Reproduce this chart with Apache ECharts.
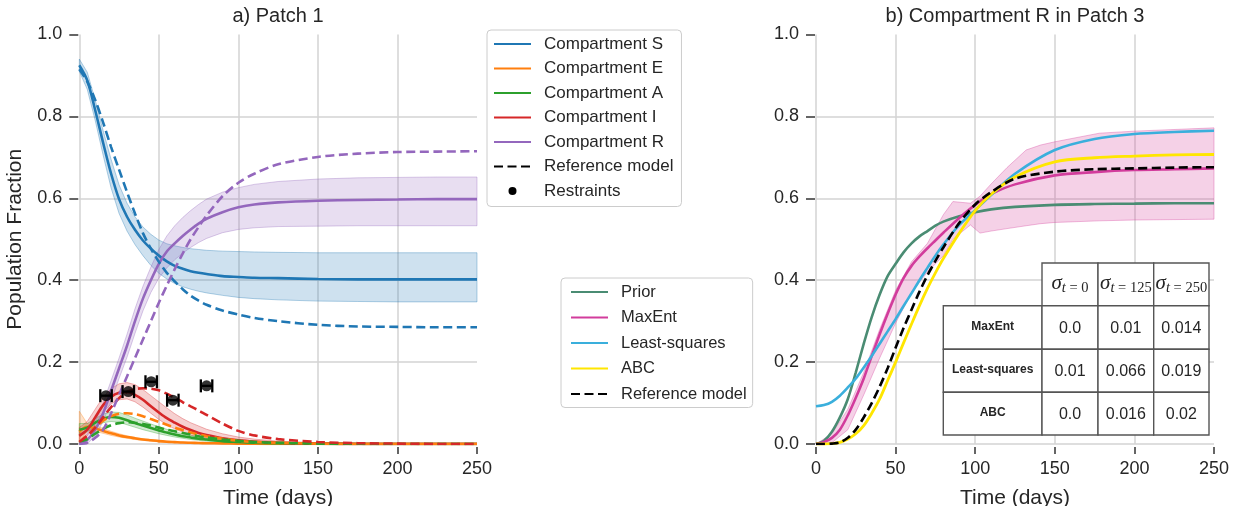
<!DOCTYPE html>
<html><head><meta charset="utf-8">
<script src="https://cdn.jsdelivr.net/npm/echarts@6/dist/echarts.min.js"></script>
<style>html,body{margin:0;padding:0;background:#fff}#c{width:1233px;height:506px}</style>
</head><body><div id="c"></div>
<script>
// ---------- shared time grid (days) ----------
const days = [0,5,10,15,20,25,30,35,40,45,50,55,60,65,70,75,80,90,100,110,125,150,175,200,225,250];

// ---------- a) Patch 1 : model mean, band (low/high) and reference model ----------
const sMean = [0.925,0.888,0.815,0.735,0.66,0.598,0.555,0.523,0.497,0.477,0.46,0.446,0.435,0.428,0.422,0.418,0.415,0.41,0.408,0.406,0.405,0.403,0.402,0.402,0.402,0.402];
const sLow  = [0.91,0.866,0.79,0.705,0.625,0.563,0.52,0.487,0.46,0.436,0.417,0.403,0.392,0.384,0.378,0.373,0.369,0.363,0.358,0.355,0.352,0.349,0.348,0.347,0.347,0.347];
const sHigh = [0.94,0.908,0.84,0.765,0.695,0.633,0.588,0.555,0.53,0.512,0.498,0.489,0.484,0.48,0.477,0.475,0.473,0.471,0.47,0.469,0.468,0.467,0.467,0.467,0.467,0.467];
const sRef  = [0.915,0.885,0.84,0.785,0.725,0.67,0.615,0.563,0.515,0.477,0.445,0.418,0.397,0.378,0.362,0.35,0.34,0.326,0.316,0.308,0.3,0.291,0.287,0.286,0.285,0.285];

const eMean = [0.03,0.042,0.038,0.032,0.026,0.021,0.017,0.014,0.011,0.009,0.007,0.0055,0.0045,0.0035,0.003,0.0025,0.002,0.0015,0.001,0.0005,0,0,0,0,0,0];
const eLow  = [0,0.034,0.031,0.026,0.021,0.017,0.014,0.011,0.009,0.007,0.005,0.004,0.003,0.0025,0.002,0.0015,0.001,0.001,0.0005,0,0,0,0,0,0,0];
const eHigh = [0.08,0.05,0.045,0.038,0.031,0.025,0.02,0.016,0.013,0.011,0.009,0.007,0.006,0.005,0.004,0.003,0.003,0.002,0.0015,0.001,0.0005,0,0,0,0,0];
const eRef  = [0.005,0.02,0.04,0.057,0.068,0.074,0.075,0.073,0.068,0.061,0.054,0.047,0.04,0.034,0.028,0.023,0.019,0.013,0.008,0.005,0.003,0.001,0,0,0,0];

const aMean = [0.035,0.04,0.052,0.062,0.066,0.064,0.058,0.051,0.045,0.039,0.033,0.028,0.023,0.019,0.016,0.013,0.011,0.007,0.005,0.003,0.002,0.001,0,0,0,0];
const aLow  = [0.02,0.03,0.042,0.052,0.055,0.053,0.047,0.041,0.035,0.03,0.025,0.021,0.017,0.014,0.011,0.009,0.007,0.004,0.003,0.002,0.001,0,0,0,0,0];
const aHigh = [0.05,0.05,0.062,0.073,0.078,0.077,0.071,0.063,0.056,0.049,0.042,0.036,0.03,0.025,0.021,0.018,0.015,0.01,0.007,0.005,0.003,0.001,0.0005,0,0,0];
const aRef  = [0.005,0.012,0.025,0.037,0.046,0.051,0.053,0.052,0.049,0.045,0.04,0.035,0.031,0.027,0.023,0.019,0.016,0.011,0.008,0.005,0.003,0.001,0.0005,0,0,0];

const iMean = [0.02,0.035,0.065,0.095,0.115,0.125,0.127,0.12,0.108,0.092,0.077,0.063,0.052,0.042,0.034,0.027,0.022,0.014,0.009,0.006,0.003,0.001,0,0,0,0];
const iLow  = [0.005,0.02,0.048,0.078,0.098,0.108,0.11,0.103,0.09,0.075,0.06,0.047,0.037,0.029,0.022,0.017,0.013,0.007,0.004,0.002,0.001,0,0,0,0,0];
const iHigh = [0.04,0.055,0.085,0.115,0.135,0.147,0.15,0.145,0.133,0.118,0.103,0.088,0.074,0.062,0.052,0.044,0.036,0.025,0.017,0.012,0.007,0.003,0.002,0.001,0.0005,0];
const iRef  = [0.005,0.02,0.04,0.065,0.09,0.112,0.127,0.134,0.136,0.135,0.131,0.123,0.113,0.102,0.092,0.082,0.071,0.05,0.032,0.021,0.012,0.005,0.002,0.001,0,0];

const rMean = [0,0.01,0.035,0.075,0.13,0.185,0.24,0.3,0.355,0.4,0.44,0.47,0.49,0.508,0.524,0.538,0.55,0.566,0.578,0.585,0.59,0.594,0.596,0.597,0.598,0.598];
const rLow  = [0,0,0.02,0.055,0.105,0.16,0.212,0.27,0.325,0.37,0.405,0.43,0.45,0.466,0.48,0.492,0.502,0.516,0.524,0.528,0.531,0.532,0.533,0.533,0.533,0.533];
const rHigh = [0.005,0.025,0.055,0.1,0.155,0.21,0.268,0.33,0.385,0.432,0.475,0.508,0.533,0.553,0.57,0.585,0.598,0.615,0.626,0.634,0.641,0.647,0.65,0.651,0.652,0.652];
const rRef  = [0,0.003,0.015,0.035,0.075,0.12,0.165,0.21,0.255,0.3,0.345,0.387,0.427,0.465,0.5,0.53,0.558,0.605,0.638,0.66,0.683,0.701,0.709,0.713,0.714,0.715];

// restraints (compartment I observations)
const restraintDays = [16.8, 30.8, 45.2, 58.8, 80];
const restraintVals = [0.118, 0.128, 0.152, 0.107, 0.142];
const restraintErr  = [3.6, 3.6, 3.6, 3.6, 3.6];

// ---------- b) Compartment R in Patch 3 ----------
const prior   = [0,0.008,0.03,0.065,0.11,0.175,0.245,0.31,0.365,0.41,0.44,0.468,0.49,0.507,0.52,0.533,0.543,0.556,0.566,0.573,0.579,0.584,0.586,0.587,0.588,0.588];
const maxEnt  = [0,0.005,0.015,0.035,0.07,0.113,0.16,0.215,0.268,0.318,0.365,0.405,0.435,0.458,0.478,0.497,0.516,0.552,0.584,0.61,0.634,0.656,0.664,0.669,0.671,0.673];
const leastSq = [0.092,0.095,0.103,0.118,0.138,0.16,0.187,0.215,0.245,0.275,0.305,0.337,0.368,0.4,0.43,0.46,0.487,0.535,0.571,0.608,0.66,0.718,0.745,0.757,0.762,0.765];
const abc     = [0,0,0.001,0.004,0.012,0.025,0.045,0.075,0.11,0.155,0.2,0.247,0.293,0.338,0.38,0.418,0.453,0.515,0.57,0.61,0.652,0.689,0.699,0.703,0.706,0.707];
const refR3   = [0,0,0.001,0.004,0.015,0.035,0.065,0.1,0.14,0.185,0.235,0.283,0.328,0.372,0.412,0.447,0.48,0.54,0.585,0.615,0.648,0.665,0.671,0.673,0.675,0.676];

const bandDays = [0,10,20,30,40,50,60,70,80,86,97,103,110,120,132,141,150,178,200,250];
const bandLow  = [0,0.003,0.035,0.12,0.21,0.295,0.37,0.42,0.46,0.5,0.535,0.515,0.52,0.526,0.533,0.538,0.541,0.545,0.547,0.549];
const bandHigh = [0,0.025,0.085,0.175,0.28,0.375,0.445,0.49,0.56,0.592,0.588,0.605,0.635,0.675,0.718,0.73,0.738,0.759,0.764,0.772];

// ---------- table ----------
const tableRowLabels = ['MaxEnt', 'Least-squares', 'ABC'];
const tableColTimes  = ['0', '125', '250'];
const sigmaT0   = ['0.0', '0.01', '0.0'];
const sigmaT125 = ['0.01', '0.066', '0.016'];
const sigmaT250 = ['0.014', '0.019', '0.02'];

// ---------- legend labels ----------
const legendLeft  = ['Compartment S','Compartment E','Compartment A','Compartment I','Compartment R','Reference model','Restraints'];
const legendRight = ['Prior','MaxEnt','Least-squares','ABC','Reference model'];

// =====================================================
const F = 'Liberation Sans, Arial, Helvetica, sans-serif';
const TXT = '#262626';
const LW = 2.6;
const DASH = [9, 4.5];
const COL = {S:'#1f77b4', E:'#ff7f0e', A:'#2ca02c', I:'#d62728', R:'#9467bd'};
function rgba(hex, a){
  const n = parseInt(hex.slice(1), 16);
  return `rgba(${(n>>16)&255},${(n>>8)&255},${n&255},${a})`;
}
const pairs = (t, v) => t.map((x, i) => [x, v[i]]);
const series = [];

function addBand(gi, t, lo, hi, color, alpha){
  series.push({type:'custom', xAxisIndex:gi, yAxisIndex:gi, z:1, silent:true,
    data: t.map((x, i) => [x, lo[i], hi[i]]),
    encode:{x:0, y:[1, 2]},
    renderItem(params, api){
      if (params.dataIndex !== 0) return null;
      const up = t.map((x, i) => api.coord([x, hi[i]]));
      const dn = t.map((x, i) => api.coord([x, lo[i]])).reverse();
      return {type:'polygon', shape:{points: up.concat(dn)},
        style:{fill: rgba(color, alpha), stroke: rgba(color, Math.min(1, alpha + 0.12)), lineWidth: 1}};
    }});
}
function addLine(name, gi, t, v, color, dashed, width, z){
  series.push({name, type:'line', xAxisIndex:gi, yAxisIndex:gi, data:pairs(t, v), symbol:'none',
    smooth:0.3, color, lineStyle:{color, width:width || LW, type: dashed ? DASH : 'solid'},
    z: z || 3, silent:true});
}

// left plot
addBand(0, days, sLow, sHigh, COL.S, 0.22);
addBand(0, days, eLow, eHigh, COL.E, 0.22);
addBand(0, days, aLow, aHigh, COL.A, 0.22);
addBand(0, days, iLow, iHigh, COL.I, 0.22);
addBand(0, days, rLow, rHigh, COL.R, 0.22);
addLine('Compartment S', 0, days, sMean, COL.S, false);
addLine('Compartment E', 0, days, eMean, COL.E, false);
addLine('Compartment A', 0, days, aMean, COL.A, false);
addLine('Compartment I', 0, days, iMean, COL.I, false);
addLine('Compartment R', 0, days, rMean, COL.R, false);
addLine('S (reference)', 0, days, sRef, COL.S, true);
addLine('E (reference)', 0, days, eRef, COL.E, true);
addLine('A (reference)', 0, days, aRef, COL.A, true);
addLine('I (reference)', 0, days, iRef, COL.I, true);
addLine('R (reference)', 0, days, rRef, COL.R, true);

series.push({type:'custom', name:'Restraint error', xAxisIndex:0, yAxisIndex:0, z:5, silent:true,
  data: restraintDays.map((t, i) => [t, restraintVals[i], restraintErr[i]]),
  encode:{x:0, y:1},
  renderItem(params, api){
    const t = api.value(0), v = api.value(1), e = api.value(2);
    const p0 = api.coord([t - e, v]), p1 = api.coord([t + e, v]);
    const cap = 6.5, st = {stroke:'#000', lineWidth:2.3};
    return {type:'group', children:[
      {type:'line', shape:{x1:p0[0], y1:p0[1], x2:p1[0], y2:p1[1]}, style:st},
      {type:'line', shape:{x1:p0[0], y1:p0[1]-cap, x2:p0[0], y2:p0[1]+cap}, style:st},
      {type:'line', shape:{x1:p1[0], y1:p1[1]-cap, x2:p1[0], y2:p1[1]+cap}, style:st}
    ]};
  }
});
series.push({name:'Restraints', type:'scatter', xAxisIndex:0, yAxisIndex:0, z:6, silent:true,
  data: pairs(restraintDays, restraintVals), symbol:'circle', symbolSize:11, color:'#000', itemStyle:{color:'#000'}});

// right plot
addBand(1, bandDays, bandLow, bandHigh, '#d646a0', 0.25);
addLine('Prior', 1, days, prior, '#4a8c73', false);
addLine('MaxEnt', 1, days, maxEnt, '#d23c9c', false);
addLine('Least-squares', 1, days, leastSq, '#3aafdc', false);
addLine('ABC', 1, days, abc, '#ffe600', false, 2.8);
addLine('Reference model', 1, days, refR3, '#000000', true, LW, 4);

// axes
function xAx(gi){
  return {type:'value', gridIndex:gi, min:0, max:250, interval:50, offset:3,
    axisLine:{show:false, onZero:false},
    axisTick:{show:true, length:7, lineStyle:{color:'#333', width:1.5}},
    axisLabel:{margin:13, fontSize:18, color:TXT, fontFamily:F},
    splitLine:{show:true, showMaxLine:false, lineStyle:{color:'#d3d3d3', width:1.5}},
    name:'Time (days)', nameLocation:'middle', nameGap:40.5,
    nameTextStyle:{fontSize:21, color:TXT, fontFamily:F}};
}
function yAx(gi, name){
  const o = {type:'value', gridIndex:gi, min:0, max:1, interval:0.2, offset:1,
    axisLine:{show:false, onZero:false},
    axisTick:{show:true, length:9, lineStyle:{color:'#333', width:1.5}},
    axisLabel:{margin:16, fontSize:18, color:TXT, fontFamily:F, formatter:v => v.toFixed(1)},
    splitLine:{show:true, showMaxLine:false, lineStyle:{color:'#d3d3d3', width:1.5}}};
  if (name) Object.assign(o, {name, nameLocation:'middle', nameGap:53,
    nameTextStyle:{fontSize:21, color:TXT, fontFamily:F}});
  return o;
}

// table graphics
const tX = [943.3, 1042, 1098, 1153.7, 1209];
const tY = [263, 305.7, 349.3, 392.3, 435];
const graphics = [];
const cellStyle = {fill:'#ffffff', stroke:'#555555', lineWidth:1.4};
function cell(x0, y0, x1, y1){
  graphics.push({type:'rect', z:100, shape:{x:x0, y:y0, width:x1-x0, height:y1-y0}, style:cellStyle});
}
function txt(x, y, text, font, extra){
  graphics.push({type:'text', z:101, x, y, style:Object.assign({text, font, fill:TXT,
    align:'center', verticalAlign:'middle', textAlign:'center', textVerticalAlign:'middle'}, extra || {})});
}
const SERIF = 'Liberation Serif, DejaVu Serif, serif';
const sigmaCols = [sigmaT0, sigmaT125, sigmaT250];
tableColTimes.forEach((tc, c) => {
  cell(tX[c+1], tY[0], tX[c+2], tY[1]);
  txt((tX[c+1] + tX[c+2]) / 2, (tY[0] + tY[1]) / 2 - 1, `{s|σ}{t|t}{r| = ${tc}}`, '18px ' + SERIF, {
    rich:{
      s:{fontSize:21, fontStyle:'italic', fontFamily:SERIF, lineHeight:24, fill:TXT},
      t:{fontSize:14.5, fontStyle:'italic', fontFamily:SERIF, lineHeight:15, verticalAlign:'bottom', fill:TXT},
      r:{fontSize:14.5, fontFamily:SERIF, lineHeight:15, verticalAlign:'bottom', fill:TXT}
    }});
});
tableRowLabels.forEach((lab, r) => {
  cell(tX[0], tY[r+1], tX[1], tY[r+2]);
  txt((tX[0] + tX[1]) / 2, (tY[r+1] + tY[r+2]) / 2 - 1, lab, 'bold 12px ' + F);
  sigmaCols.forEach((col, c) => {
    cell(tX[c+1], tY[r+1], tX[c+2], tY[r+2]);
    txt((tX[c+1] + tX[c+2]) / 2, (tY[r+1] + tY[r+2]) / 2 + 1, col[r], '16px ' + F);
  });
});

const dotIcon = 'path://M0,0M37,14M14.5,7A4,4,0,1,1,22.5,7A4,4,0,1,1,14.5,7Z';

const option = {
  animation:false,
  backgroundColor:'#ffffff',
  title:[
    {text:'a) Patch 1', left:278, top:6, textAlign:'center', padding:0,
     textStyle:{fontSize:20, fontWeight:'normal', color:TXT, fontFamily:F}},
    {text:'b) Compartment R in Patch 3', left:1015, top:6, textAlign:'center', padding:0,
     textStyle:{fontSize:20, fontWeight:'normal', color:TXT, fontFamily:F}}
  ],
  grid:[
    {left:79.3, top:34.5, width:397.7, height:409.5, outerBoundsMode:'none', containLabel:false},
    {left:816, top:34.5, width:398, height:409.5, outerBoundsMode:'none', containLabel:false}
  ],
  xAxis:[xAx(0), xAx(1)],
  yAxis:[yAx(0, 'Population Fraction'), yAx(1)],
  legend:[
    {orient:'vertical', left:487, top:30, padding:[5.5, 8, 7, 6], itemWidth:37, itemHeight:14, itemGap:7.5,
     backgroundColor:'rgba(255,255,255,0.85)', borderColor:'#cccccc', borderWidth:1, borderRadius:4,
     selectedMode:false, itemStyle:{opacity:0},
     textStyle:{fontSize:17, color:TXT, fontFamily:F, padding:[0, 0, 0, 8]},
     data: legendLeft.map(n => n === 'Restraints' ? {name:n, icon:dotIcon, itemStyle:{opacity:1, color:'#000'}} : {name:n})},
    {orient:'vertical', left:561, top:278, padding:[5.5, 6, 5, 9], itemWidth:37, itemHeight:14, itemGap:8.5,
     backgroundColor:'rgba(255,255,255,0.85)', borderColor:'#cccccc', borderWidth:1, borderRadius:4,
     selectedMode:false, itemStyle:{opacity:0},
     textStyle:{fontSize:16.5, color:TXT, fontFamily:F, padding:[0, 0, 0, 8]},
     data: legendRight.map(n => ({name:n}))}
  ],
  graphic: graphics,
  series
};
const chart = echarts.init(document.getElementById('c'), null, {renderer:'canvas'});
chart.setOption(option);
</script>
</body></html>
